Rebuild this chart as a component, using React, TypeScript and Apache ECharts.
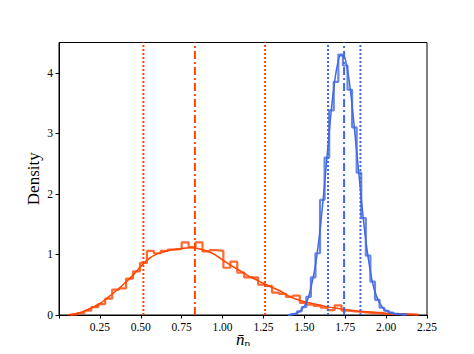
import React, { useEffect, useRef } from "react";
import * as echarts from "echarts";

// Orange histogram (bin edges start at 0.07, width 0.0425)
const orangeBinStart = 0.07;
const orangeBinWidth = 0.0425;
const orangeHist = [
  0.01, 0.03, 0.07, 0.13, 0.18, 0.27, 0.42, 0.44, 0.6, 0.72,
  0.86, 1.06, 1.02, 1.06, 1.08, 1.09, 1.2, 1.12, 1.2, 1.05,
  1.07, 1.06, 0.78, 0.88, 0.7, 0.62, 0.62, 0.5, 0.48, 0.37,
  0.35, 0.3, 0.32, 0.2, 0.17, 0.15, 0.12, 0.08, 0.16, 0.07,
  0.06, 0.05, 0.04, 0.03, 0.035, 0.02, 0.015, 0.015, 0.01, 0.005,
];
// Orange density curve
const orangeCurveX = [
  0.05, 0.1, 0.15, 0.2, 0.25, 0.3, 0.35, 0.4, 0.45, 0.5, 0.55, 0.6, 0.65, 0.7,
  0.75, 0.8, 0.85, 0.9, 0.95, 1.0, 1.05, 1.1, 1.15, 1.2, 1.25, 1.3, 1.35, 1.4,
  1.45, 1.5, 1.55, 1.6, 1.65, 1.7, 1.75, 1.8, 1.85, 1.9, 1.95, 2.0, 2.05, 2.1,
  2.15, 2.2,
];
const orangeCurveY = [
  0.0, 0.02, 0.06, 0.12, 0.19, 0.29, 0.4, 0.52, 0.65, 0.8, 0.93, 1.01, 1.05, 1.08,
  1.1, 1.11, 1.1, 1.06, 1.0, 0.91, 0.82, 0.74, 0.66, 0.59, 0.52, 0.46, 0.4, 0.32,
  0.26, 0.22, 0.19, 0.16, 0.13, 0.11, 0.09, 0.075, 0.06, 0.05, 0.04, 0.03, 0.022, 0.015,
  0.01, 0.006,
];
// Blue histogram (bin edges start at 1.40, width 0.028)
const blueBinStart = 1.4;
const blueBinWidth = 0.028;
const blueHist = [
  0.01, 0.02, 0.06, 0.13, 0.3, 0.62, 1.02, 1.9, 2.6, 3.38, 3.85, 4.3, 4.12,
  3.72, 3.1, 2.35, 1.6, 0.98, 0.55, 0.25, 0.12, 0.07, 0.04, 0.02, 0.01, 0.005,
];
// Blue density curve
const blueCurveX = [
  1.4, 1.44, 1.48, 1.52, 1.56, 1.58, 1.6, 1.62, 1.64, 1.66, 1.68, 1.7, 1.72, 1.74,
  1.76, 1.78, 1.8, 1.82, 1.84, 1.86, 1.88, 1.9, 1.92, 1.94, 1.96, 1.98, 2.0, 2.04,
  2.08, 2.12,
];
const blueCurveY = [
  0.0, 0.02, 0.08, 0.25, 0.7, 1.05, 1.5, 2.05, 2.65, 3.25, 3.75, 4.1, 4.28, 4.28,
  4.1, 3.75, 3.25, 2.7, 2.15, 1.6, 1.15, 0.78, 0.5, 0.32, 0.2, 0.12, 0.07, 0.03,
  0.012, 0.004,
];
// Vertical reference lines
const orangeQuantiles = [0.516, 1.26];
const orangeMedian = 0.831;
const blueQuantiles = [1.645, 1.843];
const blueMedian = 1.743;

const xTicks = [0.25, 0.5, 0.75, 1.0, 1.25, 1.5, 1.75, 2.0, 2.25];
const yMax = 4.5;

const ORANGE = "#FF4500";
const BLUE = "#4169E1";
const FONT = "'Liberation Serif', 'DejaVu Serif', serif";

function stepData(start: number, width: number, vals: number[]) {
  const pts: number[][] = [[start, 0]];
  vals.forEach((v, i) => pts.push([start + i * width, v]));
  pts.push([start + vals.length * width, 0]);
  return pts;
}

function vline(x: number, color: string, dash: number[], z: number) {
  return {
    type: "line",
    data: [
      [x, 0],
      [x, yMax],
    ],
    symbol: "none",
    silent: true,
    z,
    lineStyle: { color, width: 2, type: dash },
  };
}

export default function App() {
  const ref = useRef<HTMLDivElement>(null);
  useEffect(() => {
    if (!ref.current) return;
    const chart = echarts.init(ref.current, null, { renderer: "svg" });
    const dotted = [2, 2];
    const dashdot = [8, 3, 2, 3];
    chart.setOption({
      animation: false,
      backgroundColor: "#fff",
      grid: {
        left: 59,
        right: 47,
        top: 42.5,
        bottom: 39,
        show: true,
        borderColor: "#000",
        borderWidth: 1,
        backgroundColor: "transparent",
        outerBoundsMode: "none",
        containLabel: false,
      },
      xAxis: {
        type: "value",
        min: 0,
        max: 2.25,
        interval: 0.25,
        splitLine: { show: false },
        axisLine: { show: true, onZero: false, lineStyle: { color: "#000", width: 1 } },
        axisTick: { show: true, inside: false, length: 3.5, lineStyle: { color: "#000" } },
        axisLabel: {
          margin: 6,
          fontFamily: FONT,
          fontSize: 11.5,
          color: "#000",
          formatter: (v: number) =>
            xTicks.some((t) => Math.abs(t - v) < 1e-6) ? v.toFixed(2) : "",
        },
        name: "{n|n̄}{p|p}",
        nameLocation: "middle",
        nameGap: 15,
        nameMoveOverlap: false,
        nameTextStyle: {
          lineHeight: 18,
          rich: {
            n: { fontFamily: FONT, fontStyle: "italic", fontSize: 17, color: "#000", lineHeight: 18 },
            p: { fontFamily: FONT, fontSize: 11, color: "#000", verticalAlign: "bottom", lineHeight: 12, padding: [5, 0, 0, 0] },
          },
        },
      },
      yAxis: {
        type: "value",
        min: 0,
        max: yMax,
        interval: 1,
        splitLine: { show: false },
        axisLine: { show: true, lineStyle: { color: "#000", width: 1 } },
        axisTick: { show: true, inside: false, length: 3.5, lineStyle: { color: "#000" } },
        axisLabel: {
          margin: 6,
          fontFamily: FONT,
          fontSize: 11.5,
          color: "#000",
          showMaxLabel: false,
        },
        name: "Density",
        nameLocation: "middle",
        nameGap: 17,
        nameMoveOverlap: false,
        nameRotate: 90,
        nameTextStyle: { fontFamily: FONT, fontSize: 17, color: "#000" },
      },
      series: [
        {
          type: "line",
          step: "end",
          data: stepData(orangeBinStart, orangeBinWidth, orangeHist),
          symbol: "none",
          lineStyle: { color: ORANGE, width: 2.2, opacity: 0.8 },
          z: 2,
        },
        {
          type: "line",
          data: orangeCurveX.map((x, i) => [x, orangeCurveY[i]]),
          smooth: 0.3,
          symbol: "none",
          lineStyle: { color: ORANGE, width: 1.5 },
          z: 3,
        },
        {
          type: "line",
          step: "end",
          data: stepData(blueBinStart, blueBinWidth, blueHist),
          symbol: "none",
          lineStyle: { color: BLUE, width: 2.2, opacity: 0.8 },
          z: 4,
        },
        {
          type: "line",
          data: blueCurveX.map((x, i) => [x, blueCurveY[i]]),
          smooth: 0.3,
          symbol: "none",
          lineStyle: { color: BLUE, width: 1.5 },
          z: 5,
        },
        ...orangeQuantiles.map((q) => vline(q, ORANGE, dotted, 6)),
        vline(orangeMedian, ORANGE, dashdot, 6),
        ...blueQuantiles.map((q) => vline(q, BLUE, dotted, 6)),
        vline(blueMedian, BLUE, dashdot, 6),
      ],
    });
    return () => chart.dispose();
  }, []);
  return <div ref={ref} style={{ width: 474, height: 354, margin: -8 }} />;
}
